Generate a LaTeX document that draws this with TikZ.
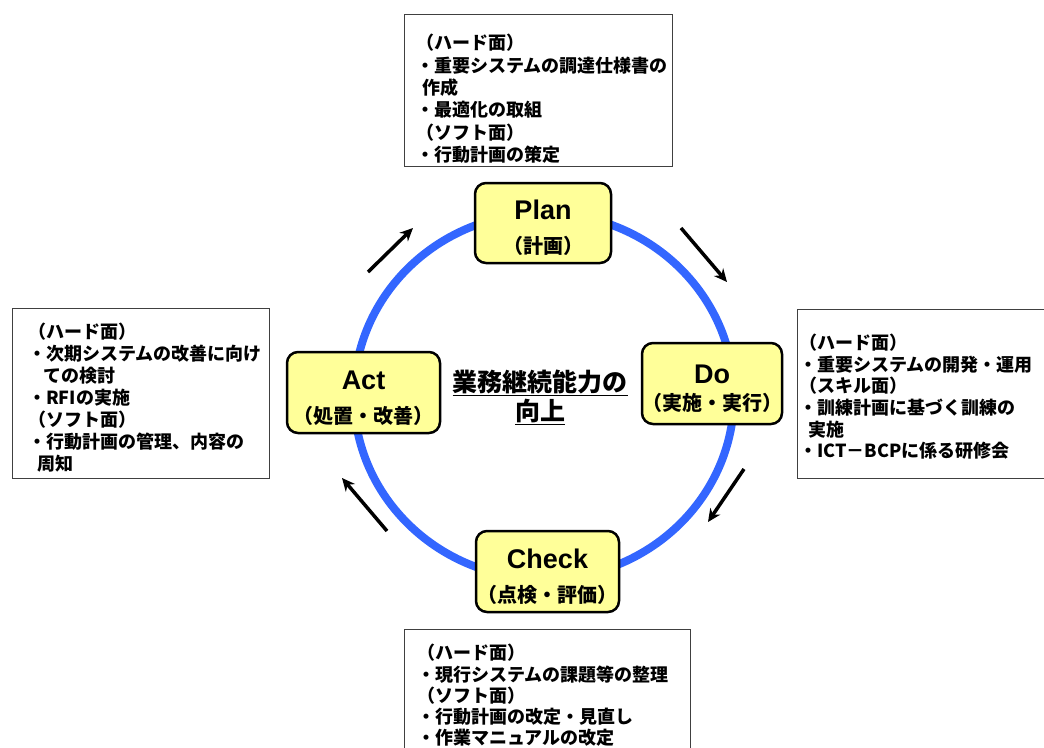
\documentclass[tikz,border=0pt]{standalone}
\usepackage{fontspec}
\setmainfont{Noto Sans CJK JP}
\newfontfamily\latinfont{Liberation Sans}
\usetikzlibrary{positioning,arrows.meta}

\definecolor{cycleblue}{RGB}{51,102,255}
\definecolor{phaseyellow}{RGB}{255,255,153}

\newcommand{\phasename}[1]{\rule{0pt}{30pt}{\latinfont\bfseries\fontsize{27}{27}\selectfont #1}}

\tikzset{
  phase/.style={draw, line width=2.5pt, rounded corners=11pt, fill=phaseyellow,
    align=center, inner sep=0pt, font=\bfseries\fontsize{20}{34}\selectfont},
  notebox/.style={draw=black!75, line width=1pt, anchor=north west, inner sep=0pt},
  notetext/.style={anchor=north west, align=left, inner sep=0pt,
    font=\bfseries\fontsize{18}{22}\selectfont},
  cyclearrow/.style={line width=3.5pt, -{Stealth[length=13pt,width=12pt]}}
}

\begin{document}
\begin{tikzpicture}[x=1pt, y=-1pt]
  \useasboundingbox (0,0) rectangle (1044,747);

  % the cycle
  \draw[cycleblue, line width=8pt] (544,396) ellipse [x radius=190pt, y radius=183pt];

  \foreach \sx/\sy/\ex/\ey/\nm in {368/272/413/228/actplan, 681/228/727/282/plando,
                                   744/469/708/522/docheck, 387/531/342/478/checkact}
  {
    \coordinate (\nm-s) at (\sx,\sy);
    \coordinate (\nm-e) at (\ex,\ey);
    \draw[cyclearrow] (\nm-s) -- (\nm-e);
  }

  % phases
  \node[phase, minimum width=136pt, minimum height=80pt] (plan) at (543,223)
    {\phasename{Plan}\\（計画）};
  \node[phase, minimum width=136pt, minimum height=81pt,
        font=\bfseries\fontsize{20}{27}\selectfont] (do) at (712,383.5)
    {\phasename{Do}\\（実施・実行）};
  \node[phase, minimum width=143pt, minimum height=81pt] (check) at (547.5,571.5)
    {\phasename{Check}\\（点検・評価）};
  \node[phase, minimum width=153pt, minimum height=81pt] (act) at (363.5,392.5)
    {\phasename{Act}\\（処置・改善）};

  \node[align=center, inner sep=0pt, font=\bfseries\fontsize{25}{29}\selectfont] (goal) at (540,397)
    {\underline{業務継続能力の}\\\underline{向上}};

  % notes
  \node[notebox, minimum width=268pt, minimum height=152pt] (planbox) at (404,14) {};
  \node[notetext, font=\bfseries\fontsize{18}{22.4}\selectfont] (plantext) at (416,34)
    {（ハード面）\\
     ・重要システムの調達仕様書の\\
     \hspace*{6pt}作成\\
     ・最適化の取組\\
     （ソフト面）\\
     ・行動計画の策定};

  \node[notebox, minimum width=300pt, minimum height=169pt] (dobox) at (797,309) {};
  \node[notetext, font=\bfseries\fontsize{18}{21.6}\selectfont] (dotext) at (799,334)
    {（ハード面）\\
     ・重要システムの開発・運用\\
     （スキル面）\\
     ・訓練計画に基づく訓練の\\
     \hspace*{9pt}実施\\
     ・ICT－BCPに係る研修会};

  \node[notebox, minimum width=286pt, minimum height=150pt] (checkbox) at (404,629) {};
  \node[notetext, font=\bfseries\fontsize{18}{21.3}\selectfont] (checktext) at (417,644)
    {（ハード面）\\
     ・現行システムの課題等の整理\\
     （ソフト面）\\
     ・行動計画の改定・見直し\\
     ・作業マニュアルの改定};

  \node[notebox, minimum width=257pt, minimum height=170pt] (actbox) at (12,308) {};
  \node[notetext] (acttext) at (28,323)
    {（ハード面）\\
     ・次期システムの改善に向け\\
     \hspace*{15pt}ての検討\\
     ・RFIの実施\\
     （ソフト面）\\
     ・行動計画の管理、内容の\\
     \hspace*{9pt}周知};
\end{tikzpicture}
\end{document}
